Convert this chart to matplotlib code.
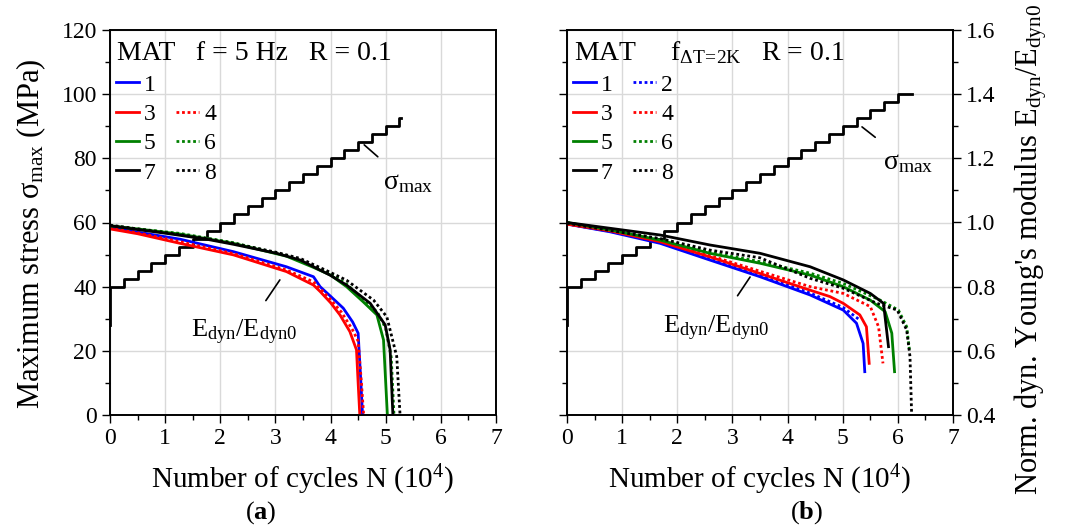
import matplotlib
matplotlib.use("Agg")
import matplotlib.pyplot as plt
from matplotlib.lines import Line2D
from matplotlib.ticker import MultipleLocator

plt.rcParams['font.family'] = ['Liberation Serif', 'DejaVu Serif']
plt.rcParams['mathtext.fontset'] = 'custom'
plt.rcParams['mathtext.rm'] = 'Liberation Serif'
plt.rcParams['mathtext.it'] = 'Liberation Serif:italic'
plt.rcParams['mathtext.bf'] = 'Liberation Serif:bold'
plt.rcParams['font.size'] = 17

# ---- max stress staircase (N in 10^4 cycles, MPa)
sig_a_N = [0, 0, 0.25, 0.5, 0.75, 1.0, 1.25, 1.5, 1.75, 2.0, 2.25, 2.5, 2.75, 3.0,
           3.25, 3.5, 3.75, 4.0, 4.25, 4.5, 4.75, 5.0, 5.25, 5.28]
sig_a = [28, 40, 42.5, 45, 47.5, 50, 52.5, 55, 57.5, 60, 62.5, 65, 67.5, 70,
         72.5, 75, 77.5, 80, 82.5, 85, 87.5, 90, 92.5, 92.5]

sig_b_N = [0, 0, 0.25, 0.5, 0.75, 1.0, 1.25, 1.5, 1.75, 2.0, 2.25, 2.5, 2.75, 3.0,
           3.25, 3.5, 3.75, 4.0, 4.25, 4.5, 4.75, 5.0, 5.25, 5.5, 5.75, 6.0, 6.25]
sig_b = [28, 40, 42.5, 45, 47.5, 50, 52.5, 55, 57.5, 60, 62.5, 65, 67.5, 70,
         72.5, 75, 77.5, 80, 82.5, 85, 87.5, 90, 92.5, 95, 97.5, 100, 100]

# ---- normalised dynamic modulus, panel (a)
a1_N = [0, 0.5, 1.27, 2.24, 3.2, 3.69, 3.81, 4.0, 4.23, 4.40, 4.50, 4.55, 4.58]
a1_E = [0.985, 0.97, 0.948, 0.909, 0.862, 0.831, 0.80, 0.77, 0.733, 0.69, 0.655, 0.50, 0.40]
a3_N = [0, 0.5, 1.27, 2.24, 3.2, 3.69, 3.81, 4.0, 4.17, 4.35, 4.47, 4.50, 4.53]
a3_E = [0.98, 0.965, 0.935, 0.899, 0.847, 0.805, 0.785, 0.75, 0.712, 0.66, 0.603, 0.50, 0.40]
a4_N = [0, 0.5, 1.27, 2.24, 3.2, 3.69, 4.0, 4.2, 4.4, 4.5, 4.56, 4.6]
a4_E = [0.982, 0.968, 0.94, 0.903, 0.852, 0.815, 0.76, 0.72, 0.665, 0.63, 0.5, 0.4]
a5_N = [0, 0.5, 1.27, 2.24, 3.2, 3.69, 4.0, 4.29, 4.59, 4.84, 4.96, 5.03]
a5_E = [0.99, 0.98, 0.964, 0.935, 0.895, 0.86, 0.836, 0.80, 0.753, 0.712, 0.634, 0.40]
a6_N = [0, 0.5, 1.27, 2.24, 3.2, 3.69, 4.0, 4.29, 4.6, 4.85, 5.0, 5.1, 5.15]
a6_E = [0.99, 0.98, 0.966, 0.937, 0.897, 0.864, 0.84, 0.808, 0.76, 0.72, 0.67, 0.58, 0.40]
a7_N = [0, 0.5, 1.03, 1.75, 2.24, 3.02, 3.45, 3.99, 4.29, 4.72, 4.99, 5.08, 5.13]
a7_E = [0.99, 0.978, 0.966, 0.948, 0.932, 0.904, 0.883, 0.836, 0.805, 0.748, 0.681, 0.603, 0.40]
a8_N = [0, 0.5, 1.03, 1.75, 2.24, 3.02, 3.45, 3.99, 4.29, 4.78, 5.02, 5.2, 5.26]
a8_E = [0.992, 0.98, 0.968, 0.95, 0.935, 0.907, 0.888, 0.845, 0.82, 0.758, 0.706, 0.582, 0.40]

# ---- panel (b)
b1_N = [0, 0.78, 1.69, 2.59, 3.50, 4.41, 5.01, 5.25, 5.37, 5.40]
b1_E = [0.995, 0.971, 0.935, 0.883, 0.831, 0.774, 0.727, 0.686, 0.623, 0.535]
b2_N = [0, 0.78, 1.69, 2.59, 3.50, 4.41, 5.01, 5.31]
b2_E = [0.995, 0.973, 0.938, 0.888, 0.836, 0.78, 0.735, 0.696]
b3_N = [0, 0.78, 1.69, 2.59, 3.50, 4.41, 4.77, 5.01, 5.31, 5.43, 5.48]
b3_E = [0.995, 0.974, 0.94, 0.893, 0.841, 0.789, 0.769, 0.748, 0.712, 0.675, 0.561]
b4_N = [0, 0.78, 1.69, 2.59, 3.50, 4.41, 5.01, 5.50, 5.65, 5.73]
b4_E = [0.995, 0.975, 0.942, 0.897, 0.848, 0.80, 0.779, 0.738, 0.675, 0.561]
b5_N = [0, 0.78, 1.69, 2.59, 3.50, 4.41, 5.01, 5.50, 5.77, 5.89, 5.94]
b5_E = [1.0, 0.977, 0.945, 0.904, 0.873, 0.836, 0.80, 0.758, 0.722, 0.655, 0.535]
b6_N = [0, 0.78, 1.69, 2.59, 3.50, 4.41, 5.01, 5.68, 6.01, 6.16, 6.21]
b6_E = [1.0, 0.978, 0.948, 0.907, 0.878, 0.842, 0.81, 0.758, 0.727, 0.675, 0.603]
b7_N = [0, 0.78, 1.69, 2.59, 3.50, 4.41, 5.01, 5.50, 5.74, 5.83]
b7_E = [1.0, 0.982, 0.961, 0.93, 0.904, 0.862, 0.821, 0.779, 0.748, 0.613]
b8_N = [0, 0.78, 1.69, 2.59, 3.50, 4.41, 5.01, 5.62, 5.99, 6.16, 6.22, 6.25]
b8_E = [0.998, 0.975, 0.95, 0.914, 0.89, 0.826, 0.795, 0.748, 0.727, 0.665, 0.582, 0.40]

blue, red, green, black = '#0000ff', '#ff0000', '#008000', '#000000'
dot = (0, (1, 1))

fig = plt.figure(figsize=(10.65, 5.27), dpi=100)
axa = fig.add_axes([110/1065, 112/527, 386/1065, 385/527])
axb = fig.add_axes([567/1065, 112/527, 386/1065, 385/527])


def setup(ax):
    ax.set_xlim(0, 7)
    ax.set_ylim(0, 120)
    ax.xaxis.set_major_locator(MultipleLocator(1))
    ax.xaxis.set_minor_locator(MultipleLocator(0.5))
    ax.yaxis.set_major_locator(MultipleLocator(20))
    ax.yaxis.set_minor_locator(MultipleLocator(10))
    ax.grid(True, which='major', color='#d9d9d9', lw=1)
    ax.set_axisbelow(True)
    ax.tick_params(which='major', direction='out', length=6, width=1, labelsize=17)
    ax.tick_params(which='minor', direction='out', length=3.5, width=1)
    for s in ax.spines.values():
        s.set_linewidth(1.2)
    ax.set_xlabel(r'Number of cycles N (10$^{4}$)', fontsize=21)
    ax.xaxis.set_label_coords(0.5, -0.125)


setup(axa)
setup(axb)
axa.set_ylabel(r'Maximum stress $\mathrm{σ_{max}}$ (MPa)', fontsize=22)
axa.yaxis.set_label_coords(-0.16, 0.47)
axb.tick_params(axis='y', which='both', labelleft=False)

axa.plot(sig_a_N, sig_a, color=black, lw=2, drawstyle='steps-post')
axb.plot(sig_b_N, sig_b, color=black, lw=2, drawstyle='steps-post')

ta = axa.twinx()
tb = axb.twinx()
for t in (ta, tb):
    t.set_ylim(0.4, 1.6)
    t.yaxis.set_major_locator(MultipleLocator(0.2))
    t.yaxis.set_minor_locator(MultipleLocator(0.1))
    t.tick_params(which='major', direction='out', length=6, width=1, labelsize=17)
    t.tick_params(which='minor', direction='out', length=3.5, width=1)
    for s in t.spines.values():
        s.set_linewidth(1.2)
ta.tick_params(axis='y', which='both', right=False, labelright=False)
tb.yaxis.set_major_formatter(plt.FormatStrFormatter('%.1f'))
tb.set_ylabel(r"Norm. dyn. Young's modulus $\mathrm{E_{dyn}/E_{dyn0}}$", fontsize=22)
tb.yaxis.set_label_coords(1.155, 0.43)

lw = 2
leg_kw = dict(ncol=2, loc='upper left', bbox_to_anchor=(-0.01, 0.91), frameon=False,
              fontsize=17, handlelength=1.0, handletextpad=0.2, columnspacing=0.85,
              labelspacing=0.33, borderaxespad=0)

h1, = ta.plot(a1_N, a1_E, color=blue, lw=lw, label='1')
h3, = ta.plot(a3_N, a3_E, color=red, lw=lw, label='3')
h4, = ta.plot(a4_N, a4_E, color=red, lw=lw, ls=dot, label='4')
h5, = ta.plot(a5_N, a5_E, color=green, lw=lw, label='5')
h6, = ta.plot(a6_N, a6_E, color=green, lw=lw, ls=dot, label='6')
h7, = ta.plot(a7_N, a7_E, color=black, lw=lw, label='7')
h8, = ta.plot(a8_N, a8_E, color=black, lw=lw, ls=dot, label='8')
blank = Line2D([], [], color='none', label=' ')
ta.legend(handles=[h1, h3, h5, h7, blank, h4, h6, h8], **leg_kw)

g1, = tb.plot(b1_N, b1_E, color=blue, lw=lw, label='1')
g2, = tb.plot(b2_N, b2_E, color=blue, lw=lw, ls=dot, label='2')
g3, = tb.plot(b3_N, b3_E, color=red, lw=lw, label='3')
g4, = tb.plot(b4_N, b4_E, color=red, lw=lw, ls=dot, label='4')
g5, = tb.plot(b5_N, b5_E, color=green, lw=lw, label='5')
g6, = tb.plot(b6_N, b6_E, color=green, lw=lw, ls=dot, label='6')
g7, = tb.plot(b7_N, b7_E, color=black, lw=lw, label='7')
g8, = tb.plot(b8_N, b8_E, color=black, lw=lw, ls=dot, label='8')
tb.legend(handles=[g1, g3, g5, g7, g2, g4, g6, g8], **leg_kw)

# header texts
axa.text(0.018, 0.94, 'MAT   f = 5 Hz   R = 0.1', transform=axa.transAxes,
         fontsize=20, va='center', ha='left')
axb.text(0.018, 0.94, r'MAT     $\mathrm{f_{ΔT\!=\!2K}}$   R = 0.1', transform=axb.transAxes,
         fontsize=20, va='center', ha='left')

# annotations
axa.annotate(r'$\mathrm{σ_{max}}$', xy=(4.61, 84.2), xytext=(5.40, 72.3), fontsize=20,
             ha='center', va='center',
             arrowprops=dict(arrowstyle='-', color='black', lw=1.2, shrinkA=12, shrinkB=0))
axb.annotate(r'$\mathrm{σ_{max}}$', xy=(5.35, 89.8), xytext=(6.18, 78.6), fontsize=20,
             ha='center', va='center',
             arrowprops=dict(arrowstyle='-', color='black', lw=1.2, shrinkA=12, shrinkB=0))
axa.annotate(r'$\mathrm{E_{dyn}/E_{dyn0}}$', xy=(3.08, 42.1), xytext=(2.43, 25.6), fontsize=19,
             ha='center', va='center',
             arrowprops=dict(arrowstyle='-', color='black', lw=1.2, shrinkA=13, shrinkB=0))
axb.annotate(r'$\mathrm{E_{dyn}/E_{dyn0}}$', xy=(3.32, 43.0), xytext=(2.70, 27.1), fontsize=19,
             ha='center', va='center',
             arrowprops=dict(arrowstyle='-', color='black', lw=1.2, shrinkA=13, shrinkB=0))

fig.text(0.245, 1 - 513/527, r'($\mathbf{a}$)', ha='center', va='center', fontsize=19)
fig.text(0.757, 1 - 513/527, r'($\mathbf{b}$)', ha='center', va='center', fontsize=19)

fig.savefig('out.png', dpi=100)
